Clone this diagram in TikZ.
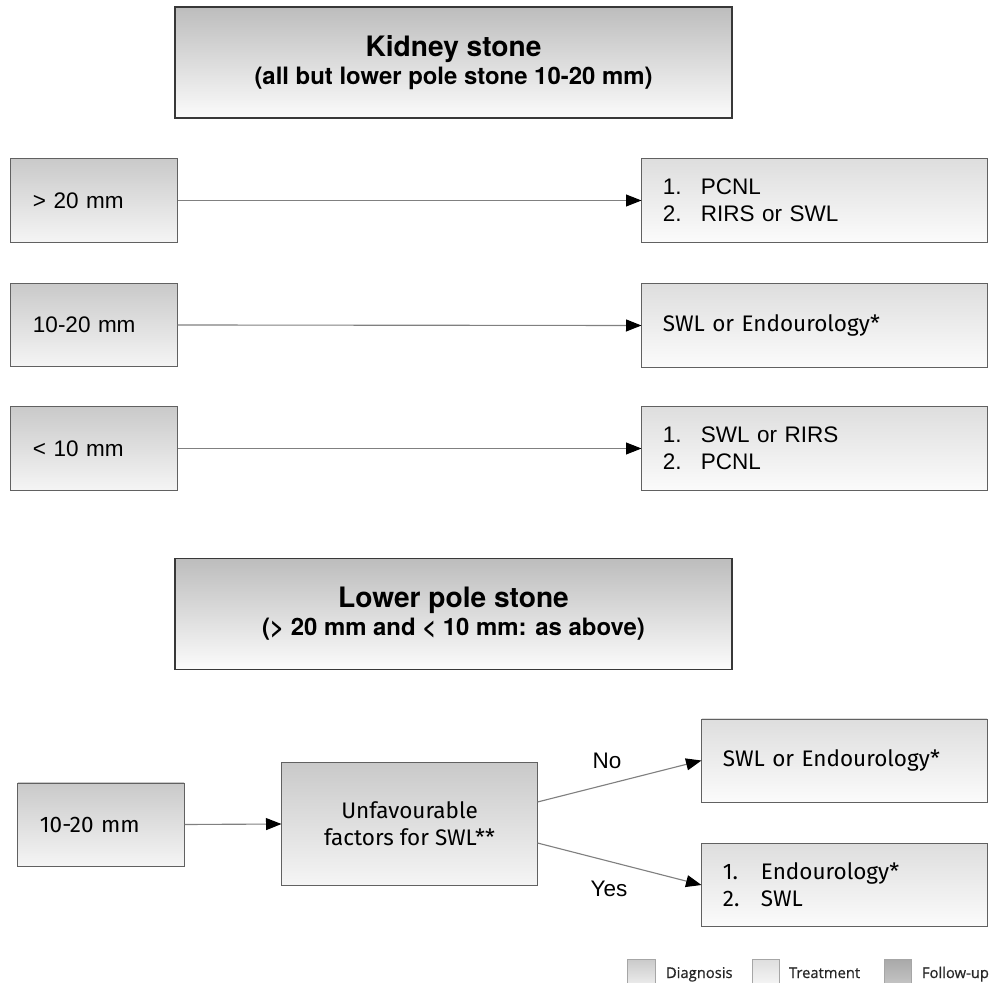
\documentclass[tikz,border=0pt]{standalone}
\usepackage{fontspec}
\setmainfont{Liberation Sans}
\newfontfamily\headfont{TeX Gyre Heros}
\newfontfamily\bodyfont{Fira Sans}
\newfontfamily\keyfont[FakeBold=0.6]{Open Sans}
\usetikzlibrary{arrows.meta,calc}
\definecolor{headtop}{gray}{0.74}
\definecolor{headbot}{gray}{0.985}
\definecolor{diagtop}{gray}{0.79}
\definecolor{diagbot}{gray}{0.96}
\definecolor{trttop}{gray}{0.87}
\definecolor{trtbot}{gray}{0.985}
\definecolor{futop}{gray}{0.66}
\definecolor{fubot}{gray}{0.80}
\definecolor{edge}{gray}{0.38}
\definecolor{headedge}{gray}{0.22}
\definecolor{linkgray}{gray}{0.5}
\newcommand{\listno}[1]{\makebox[0.95cm][l]{#1}}
\begin{document}
\begin{tikzpicture}[x=0.025cm, y=-0.025cm, >={Triangle[length=11pt, width=8.5pt, color=black]},
		every node/.style={font=\fontsize{16}{19.5}\selectfont},
		head/.style={draw=headedge, line width=0.9pt, top color=headtop, bottom color=headbot, minimum width=13.925cm, minimum height=2.775cm, align=center, font=\headfont\bfseries\fontsize{17}{20}\selectfont},
		diag/.style={draw=edge, line width=0.7pt, top color=diagtop, bottom color=diagbot},
		trt/.style={draw=edge, line width=0.7pt, top color=trttop, bottom color=trtbot},
		stonebox/.style={diag, text width=3.05cm, inner xsep=0.55cm, minimum height=2.075cm, align=left},
		trtbox/.style={trt, text width=7.575cm, inner xsep=0.525cm, minimum height=2.075cm, align=left},
		optbox/.style={trt, text width=6.075cm, inner xsep=0.525cm, minimum height=2.075cm, align=left, font=\bodyfont\fontsize{16}{19}\selectfont},
		keybox/.style={draw=gray!70, line width=0.5pt, inner sep=0pt, minimum width=0.69cm, minimum height=0.8cm},
		keytext/.style={anchor=base west, text=black!85, font=\keyfont\fontsize{10.5}{12}\selectfont},
		link/.style={->, draw=linkgray, line width=0.8pt}]
		\clip (0,0) rectangle (992,983);
		\node[head] (kidney) at (453.5,62.5) {{\fontsize{20}{20}\selectfont Kidney stone}\\(all but lower pole stone 10-20 mm)};
		\node[stonebox] (gt20) at (94,200.5) {> 20 mm};
		\node[stonebox] (mid) at (94,325) {10-20 mm};
		\node[stonebox] (lt10) at (94,448.5) {< 10 mm};
		\node[trtbox] (trtgt) at (814.5,200.5) {\listno{1.}PCNL\\\listno{2.}RIRS or SWL};
		\node[trtbox, font=\bodyfont\fontsize{16}{19}\selectfont] (trtmid) at (814.5,325.5) {SWL or Endourology*};
		\node[trtbox] (trtlt) at (814.5,448.5) {\listno{1.}SWL or RIRS\\\listno{2.}PCNL};
		\draw[link] (gt20.east) -- (trtgt.west);
		\draw[link] (mid.east) -- (trtmid.west);
		\draw[link] (lt10.east) -- (trtlt.west);
		\node[head] (lower) at (453.5,614) {{\fontsize{20}{20}\selectfont Lower pole stone}\\(> 20 mm and < 10 mm: as above)};
		\node[stonebox, font=\bodyfont\fontsize{16}{19}\selectfont] (lp) at (101,824.5) {10-20 mm};
		\node[diag, minimum width=6.375cm, minimum height=3.05cm, align=center, font=\bodyfont\fontsize{16}{19}\selectfont] (unfav) at (409.5,824) {Unfavourable\\factors for SWL**};
		\node[optbox] (no) at (844.5,760.5) {SWL or Endourology*};
		\node[optbox] (yes) at (844.5,885) {\listno{1.}Endourology*\\\listno{2.}SWL};
		\draw[link] (lp.east) -- (unfav.west);
		\draw[link] ($(unfav.east)+(0,-22)$) -- (no.west);
		\draw[link] ($(unfav.east)+(0,19)$) -- (yes.west);
		\node (nolbl) at (607,761) {No};
		\node (yeslbl) at (609,889) {Yes};
		\node[keybox, top color=diagtop, bottom color=diagbot] (kdiag) at (641.5,975) {};
		\node[keytext] at (661,978) {Diagnosis};
		\node[keybox, top color=trttop, bottom color=trtbot] (ktrt) at (766,975) {};
		\node[keytext] at (784,978) {Treatment};
		\node[keybox, top color=futop, bottom color=fubot] (kfu) at (898,975) {};
		\node[keytext] at (917,978) {Follow-up};
	\end{tikzpicture}
\end{document}
